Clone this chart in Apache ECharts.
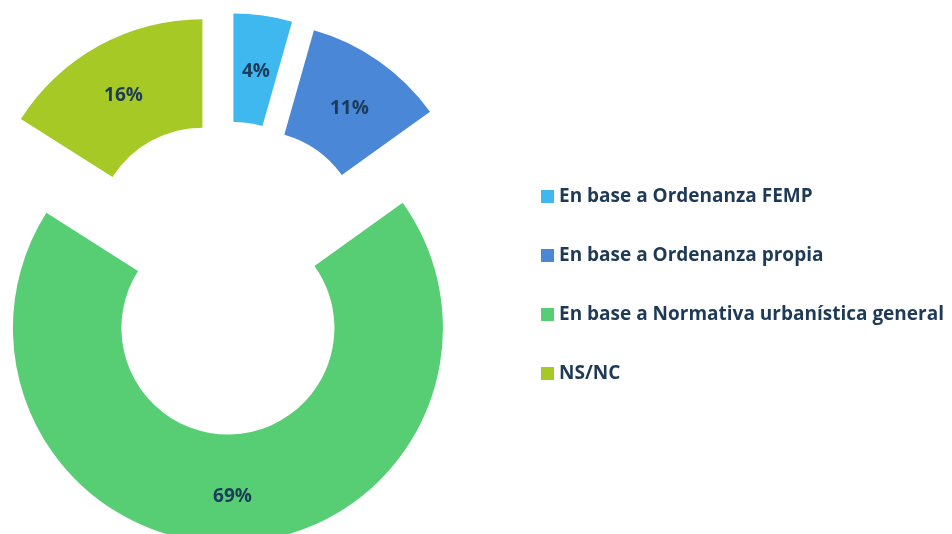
<!DOCTYPE html>
<html>
<head>
<meta charset="utf-8">
<script src="https://cdn.jsdelivr.net/npm/echarts@6/dist/echarts.min.js"></script>
<style>
html,body{margin:0;padding:0;background:#fff;}
#c{width:952px;height:534px;}
</style>
</head>
<body>
<div id="c"></div>
<script>
var categories = ['En base a Ordenanza FEMP', 'En base a Ordenanza propia', 'En base a Normativa urbanística general', 'NS/NC'];
var values = [4.4, 10.7, 68.9, 16.0];
var colors = ['#3FB8F0', '#4A87D6', '#57CE74', '#A6C926'];

var chart = echarts.init(document.getElementById('c'), null, {renderer: 'canvas'});
var data = categories.map(function (name, i) {
  return {
    name: name,
    value: values[i],
    selected: true,
    itemStyle: {color: colors[i]},
    select: {itemStyle: {color: colors[i]}}
  };
});
chart.setOption({
  animation: false,
  color: colors,
  legend: {
    orient: 'vertical',
    left: 536,
    top: 182,
    itemWidth: 13,
    itemHeight: 13,
    itemGap: 40,
    icon: 'rect',
    selectedMode: false,
    textStyle: {
      color: '#1E3A56',
      fontFamily: 'Open Sans',
      fontWeight: 'bold',
      fontSize: 19,
      lineHeight: 19
    },
    data: categories
  },
  series: [{
    type: 'pie',
    center: [226.5, 278],
    radius: [106.5, 215],
    startAngle: 90,
    clockwise: true,
    selectedMode: 'multiple',
    selectedOffset: 50,
    avoidLabelOverlap: false,
    label: {
      show: true,
      position: 'inside',
      color: '#1C3B5A',
      fontFamily: 'Open Sans',
      fontWeight: 'bold',
      fontSize: 19,
      formatter: function (p) { return Math.round(p.value) + '%'; }
    },
    labelLayout: {dy: 5},
    labelLine: {show: false},
    emphasis: {disabled: true},
    data: data
  }]
});
</script>
</body>
</html>
